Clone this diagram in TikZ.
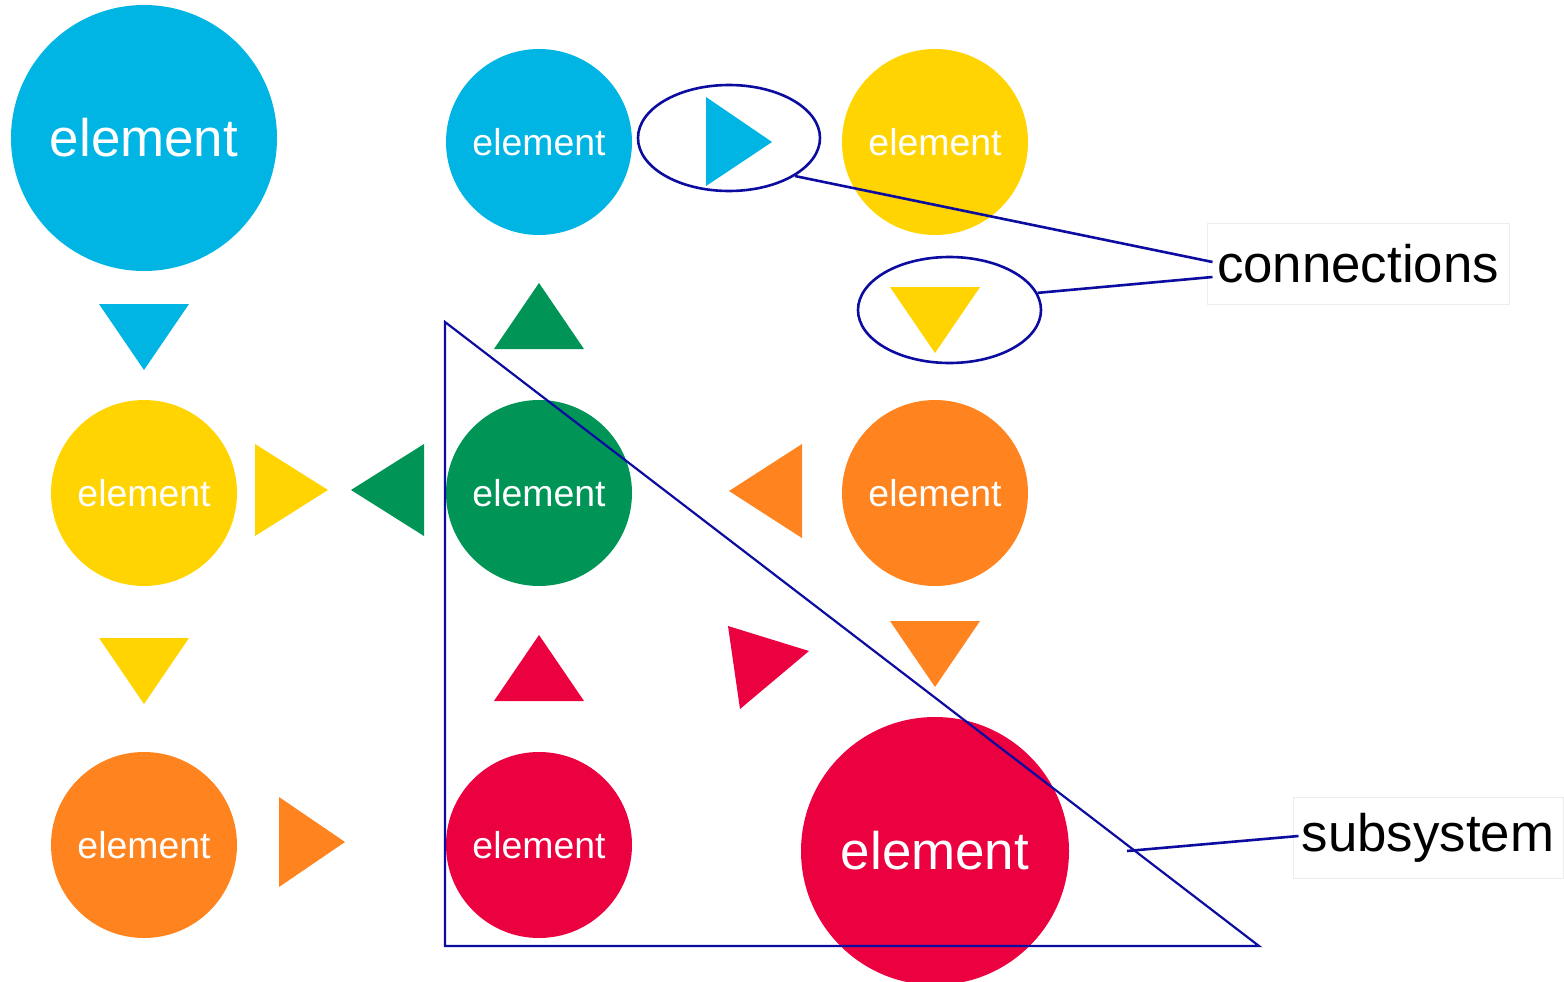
\documentclass[tikz,border=0pt]{standalone}
\usepackage{fontspec}
\setmainfont{Liberation Sans}
\usetikzlibrary{shapes.geometric,calc}
\definecolor{ccyan}{RGB}{0,180,228}
\definecolor{cyellow}{RGB}{255,212,0}
\definecolor{cgreen}{RGB}{0,149,87}
\definecolor{corange}{RGB}{255,132,32}
\definecolor{cred}{RGB}{235,0,64}
\definecolor{cblue}{RGB}{12,12,160}
\definecolor{cbox}{RGB}{236,236,236}
\begin{document}
\begin{tikzpicture}[x=1pt,y=-1pt,
  elem/.style={circle,inner sep=0pt,minimum size=186pt,text=white,font=\fontsize{37.4}{40}\selectfont},
  bigelem/.style={circle,inner sep=0pt,text=white,font=\fontsize{52.9}{56}\selectfont},
  ring/.style={ellipse,draw=cblue,line width=2.6pt,inner sep=0pt,minimum width=182pt,minimum height=106pt},
  lbl/.style={draw=cbox,line width=1pt,inner sep=0pt,minimum height=81pt,font=\fontsize{52.8}{56}\selectfont},
  link/.style={draw=cblue,line width=2.6pt},
  sub/.style={draw=cblue,line width=2.2pt,line join=miter}]
\useasboundingbox (0,0) rectangle (1564,982);
% elements
\node[bigelem,fill=ccyan,minimum size=266pt] (e1) at (144,138) {element};
\node[elem,fill=ccyan] (e2) at (539,142) {element};
\node[elem,fill=cyellow] (e3) at (935,142) {element};
\node[elem,fill=cyellow] (e4) at (144,493) {element};
\node[elem,fill=cgreen] (e5) at (539,493) {element};
\node[elem,fill=corange] (e6) at (935,493) {element};
\node[elem,fill=corange] (e7) at (144,845) {element};
\node[elem,fill=cred] (e8) at (539,845) {element};
\node[bigelem,fill=cred,minimum size=268pt] (e9) at (935,851) {element};
% connection triangles
\fill[ccyan] (99,304) -- (189,304) -- (144,370) -- cycle;
\fill[ccyan] (706,97) -- (706,186) -- (772,142) -- cycle;
\fill[cgreen] (494,349) -- (584,349) -- (539,283) -- cycle;
\fill[cyellow] (890,287) -- (980,287) -- (935,353) -- cycle;
\fill[cyellow] (255,444) -- (255,536) -- (328,490) -- cycle;
\fill[cgreen] (424,444) -- (424,536) -- (351,490) -- cycle;
\fill[corange] (802,444) -- (802,538) -- (729,491) -- cycle;
\fill[cyellow] (99,638) -- (189,638) -- (144,704) -- cycle;
\fill[cred] (494,701) -- (584,701) -- (539,635) -- cycle;
\fill[cred] (728,626) -- (809,651) -- (740,709) -- cycle;
\fill[corange] (890,621) -- (980,621) -- (935,687) -- cycle;
\fill[corange] (279,797) -- (279,887) -- (345,842) -- cycle;
% rings
\node[ring] (r1) at (729,138) {};
\node[ring,minimum width=183pt] (r2) at (949.5,310) {};
% labels
\node[lbl,minimum width=302pt] (lc) at (1358,263.5) {connections};
\node[lbl,minimum width=270pt] (ls) at (1428,837.5) {subsystem};
\coordinate (lc1) at ($(lc.west)+(6,-1.5)$);
\coordinate (lc2) at ($(lc.west)+(6,13.5)$);
\coordinate (ls1) at ($(ls.west)+(6,-1.5)$);
% subsystem triangle
\draw[sub] (445,322) coordinate (s1) -- (445,946) coordinate (s2) -- (1259,946) coordinate (s3) -- cycle;
\coordinate (sp) at (1127,851);
% leader lines
\draw[link] (r1.-30.7) -- (lc1);
\draw[link] (r2.11.7) -- (lc2);
\draw[link] (sp) -- (ls1);
\end{tikzpicture}
\end{document}
